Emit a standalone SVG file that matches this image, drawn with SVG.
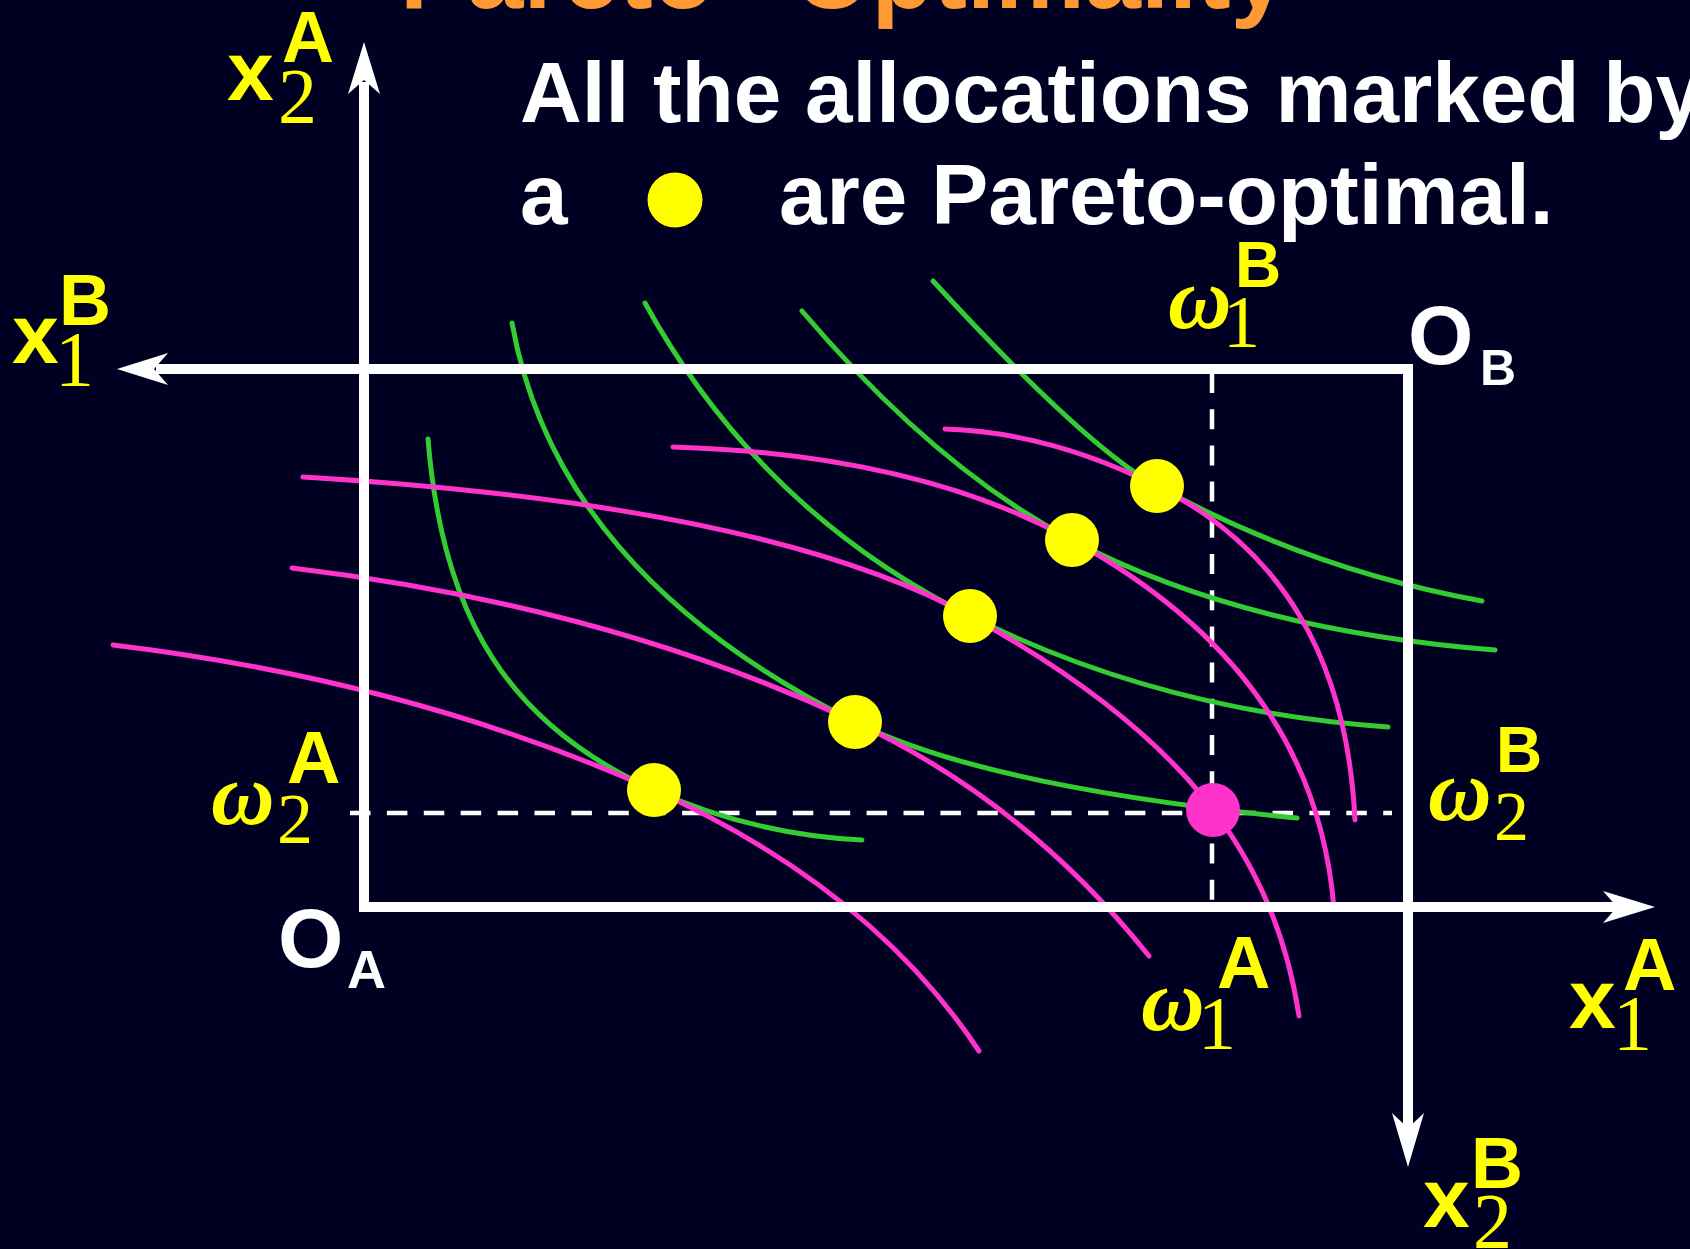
<svg xmlns="http://www.w3.org/2000/svg" width="1690" height="1249" viewBox="0 0 1690 1249">
<style>
.sans{font-family:"Liberation Sans",Arial,sans-serif;font-weight:bold}
.serif{font-family:"Liberation Serif","Times New Roman",serif}
.om{font-family:"Liberation Serif","Times New Roman",serif;font-style:italic;font-weight:bold}
.y{fill:#FFFF00}
.w{fill:#FFFFFF}
.axis{stroke:#FFFFFF;stroke-width:10;fill:none}
.head{fill:#FFFFFF}
.dash{stroke:#FFFFFF;stroke-width:4.5;fill:none}
.ga{stroke:#33CC33;stroke-width:5;fill:none;stroke-linecap:round}
.mb{stroke:#FF33CC;stroke-width:5;fill:none;stroke-linecap:round}
.dot{fill:#FFFF00}
.endow{fill:#FF33CC}
</style>
<rect x="0" y="0" width="1690" height="1249" fill="#000022"/>

<g id="title">
<text class="sans" x="400" y="8" font-size="101" fill="#FF9933">Pareto-<tspan x="793">Optimality</tspan></text>
</g>

<g id="statement">
<text class="sans w" x="520" y="122" font-size="85.5">All the allocations marked by</text>
<text class="sans w" x="520" y="224" font-size="85.5">a</text>
<circle class="dot" cx="675" cy="200" r="27.5"/>
<text class="sans w" x="779" y="224" font-size="85.5">are Pareto-optimal.</text>
</g>

<g id="endowment-lines">
<line class="dash" x1="350" y1="813" x2="1392" y2="813" stroke-dasharray="20.5 16.4"/>
<line class="dash" x1="1212" y1="373" x2="1212" y2="902" stroke-dasharray="20 16.2"/>
</g>

<g id="indifference-A">
<path class="ga" d="M428,439 C442.5,620 510.3,725.3 654,790 C720.3,819.9 789.6,836.4 862,840"/>
<path class="ga" d="M512,323 C542.2,490.5 655.3,622.2 855,722 C941.8,765.4 1087.7,797.1 1297,818"/>
<path class="ga" d="M645,303 C721.5,442.1 829.8,545.9 970,616 C1097.3,679.7 1235.2,716.3 1388,727"/>
<path class="ga" d="M802,311 C891,415.7 980.1,491.3 1072,540 C1185.4,600.1 1324.8,636.4 1495,650"/>
<path class="ga" d="M933,281 C1035,392 1109,460 1157,486 C1259,542 1367,580 1482,601"/>
</g>

<g id="indifference-B">
<path class="mb" d="M113,645 C312.8,669 490.3,716.8 654,790 C798.5,855.2 906.8,941.9 979,1051"/>
<path class="mb" d="M292,568 C503.9,593.5 689.7,644.3 855,722 C969.7,775.9 1066.7,853.1 1149,956"/>
<path class="mb" d="M303,477 C614.6,495.7 834.6,541.6 970,616 C1175.2,728.9 1273.9,848.9 1299,1016"/>
<path class="mb" d="M673,447 C836,451.9 967.6,482.9 1072,540 C1234.9,629.6 1321.4,751.3 1334,909"/>
<path class="mb" d="M945,429 C1014.7,431.1 1084.7,449.9 1157,486 C1281.6,548.3 1347,658.5 1355,820"/>
</g>

<g id="axes">
<path class="axis" d="M364,82 L364,912"/>
<path class="axis" d="M359,907 L1620,907"/>
<path class="axis" d="M156,369 L1408,369 L1408,1132"/>
<polygon class="head" points="364,42 380,94 364,80 348,94"/>
<polygon class="head" points="1655,907 1603,923 1617,907 1603,891"/>
<polygon class="head" points="117,369 168,353 154,369 168,385"/>
<polygon class="head" points="1408,1167 1392,1113 1408,1128 1424,1113"/>
</g>

<g id="pareto-points">
<circle class="dot" cx="654" cy="790" r="27"/>
<circle class="dot" cx="855" cy="722" r="27"/>
<circle class="dot" cx="970" cy="616" r="27"/>
<circle class="dot" cx="1072" cy="540" r="27"/>
<circle class="dot" cx="1157" cy="486" r="27"/>
</g>
<g id="endowment-point">
<circle class="endow" cx="1213" cy="810" r="27"/>
</g>

<g id="label-x2A">
<text class="sans y" x="227" y="100" font-size="84">x</text>
<text class="sans y" x="282" y="62" font-size="72">A</text>
<text class="serif y" x="278" y="122" font-size="78">2</text>
</g>
<g id="label-x1B">
<text class="sans y" x="12" y="363" font-size="84">x</text>
<text class="sans y" x="59" y="325" font-size="72">B</text>
<text class="serif y" x="55" y="385" font-size="78">1</text>
</g>
<g id="label-x1A">
<text class="sans y" x="1569" y="1028" font-size="84">x</text>
<text class="sans y" x="1623" y="990" font-size="74">A</text>
<text class="serif y" x="1613" y="1049" font-size="78">1</text>
</g>
<g id="label-x2B">
<text class="sans y" x="1423" y="1227" font-size="84">x</text>
<text class="sans y" x="1471" y="1188" font-size="72">B</text>
<text class="serif y" x="1473" y="1247" font-size="78">2</text>
</g>
<g id="label-OA">
<text class="sans w" x="278" y="967" font-size="84">O</text>
<text class="sans w" x="347" y="988" font-size="54">A</text>
</g>
<g id="label-OB">
<text class="sans w" x="1408" y="364" font-size="84">O</text>
<text class="sans w" x="1480" y="385" font-size="50">B</text>
</g>
<g id="label-w1B">
<text class="om y" x="1168" y="328" font-size="88">ω</text>
<text class="sans y" x="1235" y="287" font-size="64">B</text>
<text class="serif y" x="1223" y="347" font-size="74">1</text>
</g>
<g id="label-w2A">
<text class="om y" x="211" y="824" font-size="88">ω</text>
<text class="sans y" x="287" y="783" font-size="74">A</text>
<text class="serif y" x="277" y="843" font-size="72">2</text>
</g>
<g id="label-w2B">
<text class="om y" x="1428" y="820" font-size="88">ω</text>
<text class="sans y" x="1496" y="772" font-size="64">B</text>
<text class="serif y" x="1494" y="840" font-size="70">2</text>
</g>
<g id="label-w1A">
<text class="om y" x="1141" y="1030" font-size="88">ω</text>
<text class="sans y" x="1217" y="988" font-size="74">A</text>
<text class="serif y" x="1198" y="1049" font-size="76">1</text>
</g>
</svg>
